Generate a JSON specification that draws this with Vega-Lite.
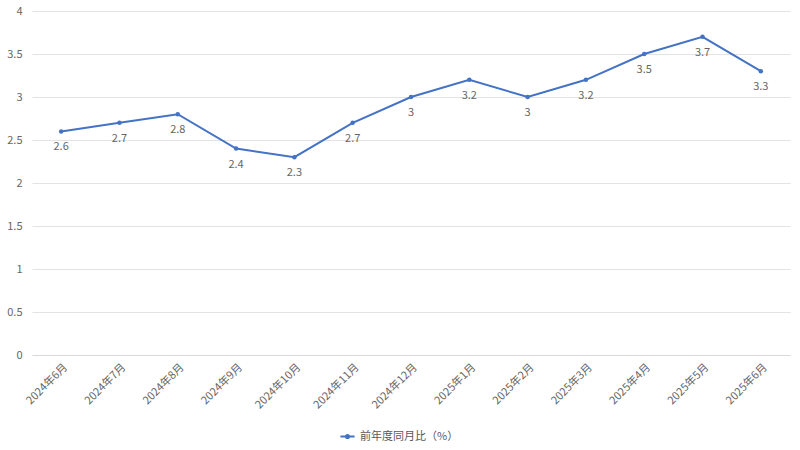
{
  "$schema": "https://vega.github.io/schema/vega-lite/v6.json",
  "width": 758,
  "height": 344,
  "autosize": {"type": "none"},
  "padding": {"left": 32, "top": 11, "right": 10, "bottom": 95},
  "background": "white",
  "config": {
    "font": "Noto Sans CJK JP",
    "view": {"stroke": null}
  },
  "data": {
    "values": [
      {"month": "2024年6月", "value": 2.6},
      {"month": "2024年7月", "value": 2.7},
      {"month": "2024年8月", "value": 2.8},
      {"month": "2024年9月", "value": 2.4},
      {"month": "2024年10月", "value": 2.3},
      {"month": "2024年11月", "value": 2.7},
      {"month": "2024年12月", "value": 3},
      {"month": "2025年1月", "value": 3.2},
      {"month": "2025年2月", "value": 3},
      {"month": "2025年3月", "value": 3.2},
      {"month": "2025年4月", "value": 3.5},
      {"month": "2025年5月", "value": 3.7},
      {"month": "2025年6月", "value": 3.3}
    ]
  },
  "encoding": {
    "x": {
      "field": "month",
      "type": "ordinal",
      "sort": null,
      "scale": {"type": "point", "padding": 0.5},
      "axis": {
        "title": null,
        "labelAngle": -45,
        "labelColor": "#666666",
        "labelFontSize": 11,
        "ticks": false,
        "domainColor": "#d9d9d9",
        "labelPadding": 6
      }
    },
    "y": {
      "field": "value",
      "type": "quantitative",
      "scale": {"domain": [0, 4], "nice": false},
      "axis": {
        "title": null,
        "values": [0, 0.5, 1, 1.5, 2, 2.5, 3, 3.5, 4],
        "format": "~g",
        "domain": false,
        "ticks": false,
        "gridColor": "#e3e3e3",
        "labelColor": "#666666",
        "labelFontSize": 11,
        "labelPadding": 10
      }
    }
  },
  "layer": [
    {
      "mark": {"type": "line", "color": "#4472C4", "strokeWidth": 2, "point": {"filled": true, "size": 20, "color": "#4472C4"}},
      "encoding": {
        "color": {
          "datum": "前年度同月比（%）",
          "scale": {"range": ["#4472C4"]},
          "legend": {
            "title": null,
            "orient": "none",
            "legendX": 307,
            "legendY": 417,
            "labelColor": "#595959",
            "labelFontSize": 11,
            "symbolType": "M -1 0 L 1 0 M -0.22 0 A 0.22 0.22 0 1 0 0.22 0 A 0.22 0.22 0 1 0 -0.22 0",
            "symbolFillColor": "#4472C4",
            "symbolStrokeColor": "#4472C4",
            "symbolStrokeWidth": 2,
            "symbolSize": 200
          }
        }
      }
    },
    {
      "mark": {"type": "text", "baseline": "top", "dy": 10, "color": "#666666", "fontSize": 11},
      "encoding": {"text": {"field": "value", "type": "quantitative"}}
    }
  ]
}
